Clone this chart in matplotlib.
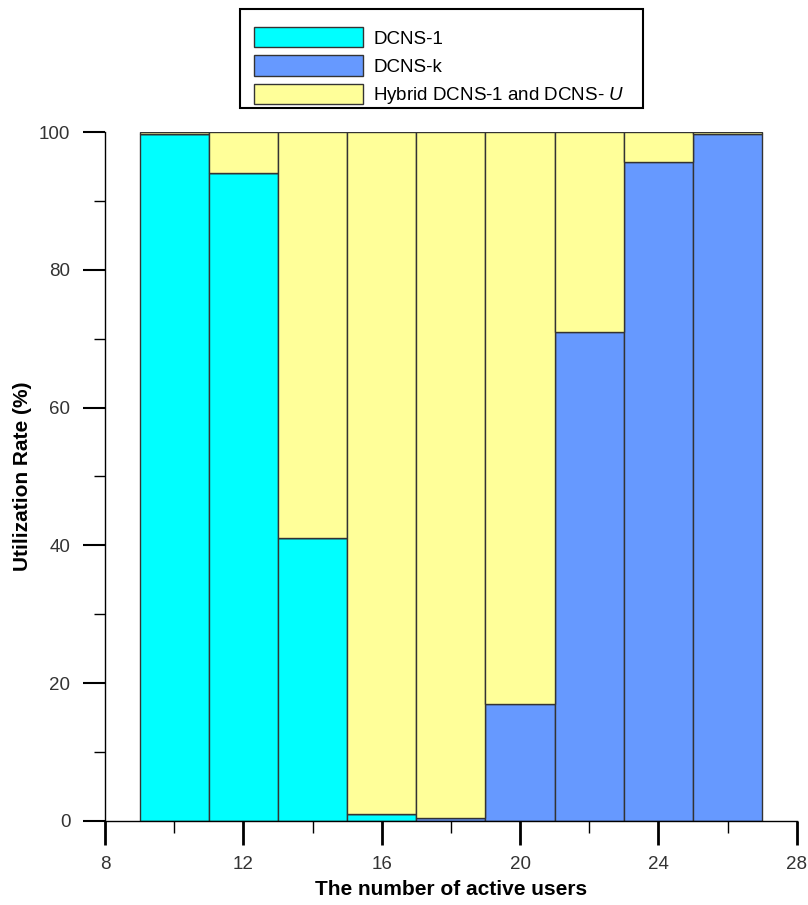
import numpy as np
import matplotlib
matplotlib.use('Agg')
import matplotlib.pyplot as plt
from matplotlib.patches import Rectangle
from matplotlib.ticker import MultipleLocator

plt.rcParams['font.family'] = ['Liberation Sans Narrow', 'Liberation Sans', 'DejaVu Sans']
plt.rcParams['mathtext.fontset'] = 'custom'
plt.rcParams['mathtext.it'] = 'Liberation Sans:italic'

# data (utilization rate, %)
users = [10, 12, 14, 16, 18, 20, 22, 24, 26]
dcns_1 = [99.8, 94.0, 41.0, 1.0, 0.0, 0.0, 0.0, 0.0, 0.0]
dcns_k = [0.0, 0.0, 0.0, 0.0, 0.4, 17.0, 71.0, 95.7, 99.7]
hybrid = [0.2, 6.0, 59.0, 99.0, 99.6, 83.0, 29.0, 4.3, 0.3]

labels = ['DCNS-1', 'DCNS-k', r'Hybrid DCNS-1 and DCNS- $\mathit{U}$']
colors = ['#00FFFF', '#6699FF', '#FFFF99']


def visualization():
    W, H = 808, 905
    fig = plt.figure(figsize=(W / 100, H / 100), dpi=100)
    ax = fig.add_axes([0.130, 0.093, 0.856, 0.761])

    edge = dict(edgecolor='#333333', linewidth=1.0, width=2.0, align='center')
    b1 = ax.bar(users, dcns_1, color=colors[0], **edge)
    b2 = ax.bar(users, dcns_k, bottom=dcns_1, color=colors[1], **edge)
    base = np.array(dcns_1) + np.array(dcns_k)
    b3 = ax.bar(users, hybrid, bottom=base, color=colors[2], **edge)

    ax.set_xlim(8, 28)
    ax.set_ylim(0, 100)
    for s in ['top', 'right']:
        ax.spines[s].set_visible(False)
    for s in ['left', 'bottom']:
        ax.spines[s].set_linewidth(1.0)
        ax.spines[s].set_zorder(5)

    ax.xaxis.set_major_locator(MultipleLocator(4))
    ax.xaxis.set_minor_locator(MultipleLocator(2))
    ax.yaxis.set_major_locator(MultipleLocator(20))
    ax.yaxis.set_minor_locator(MultipleLocator(10))
    ax.tick_params(axis='x', which='major', direction='out', length=17, width=2,
                   pad=8, labelsize=13.5, colors='black')
    ax.tick_params(axis='x', which='minor', direction='out', length=8.5, width=1)
    ax.tick_params(axis='y', which='major', direction='out', length=16, width=1.5,
                   pad=9, labelsize=13.5)
    ax.tick_params(axis='y', which='minor', direction='out', length=8, width=1)
    for t in ax.get_xticklabels() + ax.get_yticklabels():
        t.set_color('#333333')

    ax.set_xlabel('The number of active users', fontsize=15, fontweight='bold', labelpad=5)
    ax.set_ylabel('Utilization Rate (%)', fontsize=15, fontweight='bold', labelpad=5)

    # legend box drawn separately (the original has uneven padding)
    fig.add_artist(Rectangle((240 / W, 1 - 108 / H), 403 / W, 99 / H,
                             transform=fig.transFigure, fill=False,
                             edgecolor='black', linewidth=1.5))
    fig.legend([b1, b2, b3], labels, loc='upper left',
               bbox_to_anchor=(254 / W, 1 - 27 / H), borderaxespad=0,
               borderpad=0, frameon=False,
               fontsize=13.5, handlelength=5.8, handleheight=1.3,
               handletextpad=0.55, labelspacing=0.42)

    fig.savefig('out.png', dpi=100)


if __name__ == '__main__':
    visualization()
